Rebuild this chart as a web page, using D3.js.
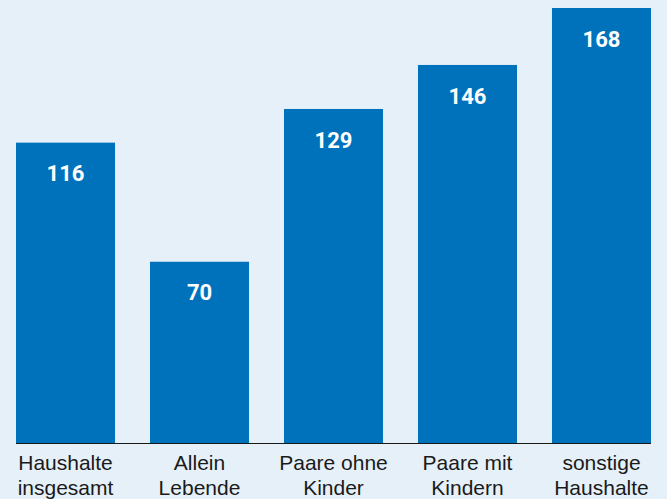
<!DOCTYPE html>
<html>
  <head>
    <script src="https://d3js.org/d3.v7.min.js"></script>
    <style>
      body { margin: 0; background: #e6f0f9; }
      svg { display: block; }
    </style>
  </head>
  <body>
    <svg width="667" height="499"></svg>
    <script>
      const categories = [
        ["Haushalte", "insgesamt"],
        ["Allein", "Lebende"],
        ["Paare ohne", "Kinder"],
        ["Paare mit", "Kindern"],
        ["sonstige", "Haushalte"]
      ];
      const values = [116, 70, 129, 146, 168];

      const svg = d3.select("svg");
      const baseline = 443;

      const x = d3.scaleBand()
        .domain(d3.range(values.length))
        .range([16, 651])
        .paddingInner(0.261)
        .paddingOuter(0);

      const y = d3.scaleLinear()
        .domain([0, 168])
        .range([baseline, 8]);

      svg.append("rect")
        .attr("width", 667).attr("height", 499)
        .attr("fill", "#e6f0f9");

      svg.selectAll("rect.bar")
        .data(values)
        .enter().append("rect")
        .attr("class", "bar")
        .attr("x", (d, i) => x(i))
        .attr("y", d => y(d))
        .attr("width", x.bandwidth())
        .attr("height", d => baseline - y(d))
        .attr("fill", "#0072bc");

      svg.append("line")
        .attr("x1", 16).attr("x2", 651)
        .attr("y1", baseline + 0.5).attr("y2", baseline + 0.5)
        .attr("stroke", "#1a1a1a")
        .attr("stroke-width", 1);

      svg.selectAll("text.val")
        .data(values)
        .enter().append("text")
        .attr("class", "val")
        .attr("x", (d, i) => x(i) + x.bandwidth() / 2)
        .attr("y", d => y(d) + 31)
        .attr("dy", "0.35em")
        .attr("text-anchor", "middle")
        .attr("fill", "#fff")
        .attr("font-family", "Roboto, sans-serif")
        .attr("font-weight", "bold")
        .attr("font-size", 22)
        .text(d => d);

      const labels = svg.selectAll("text.cat")
        .data(categories)
        .enter().append("text")
        .attr("class", "cat")
        .attr("text-anchor", "middle")
        .attr("fill", "#1a1a1a")
        .attr("font-family", "'Liberation Sans', Arial, sans-serif")
        .attr("font-size", 21);

      labels.each(function(d, i) {
        const t = d3.select(this);
        d.forEach((line, j) => {
          t.append("tspan")
            .attr("x", x(i) + x.bandwidth() / 2)
            .attr("y", 463 + j * 25)
            .attr("dy", "0.35em")
            .text(line);
        });
      });
    </script>
  </body>
</html>
